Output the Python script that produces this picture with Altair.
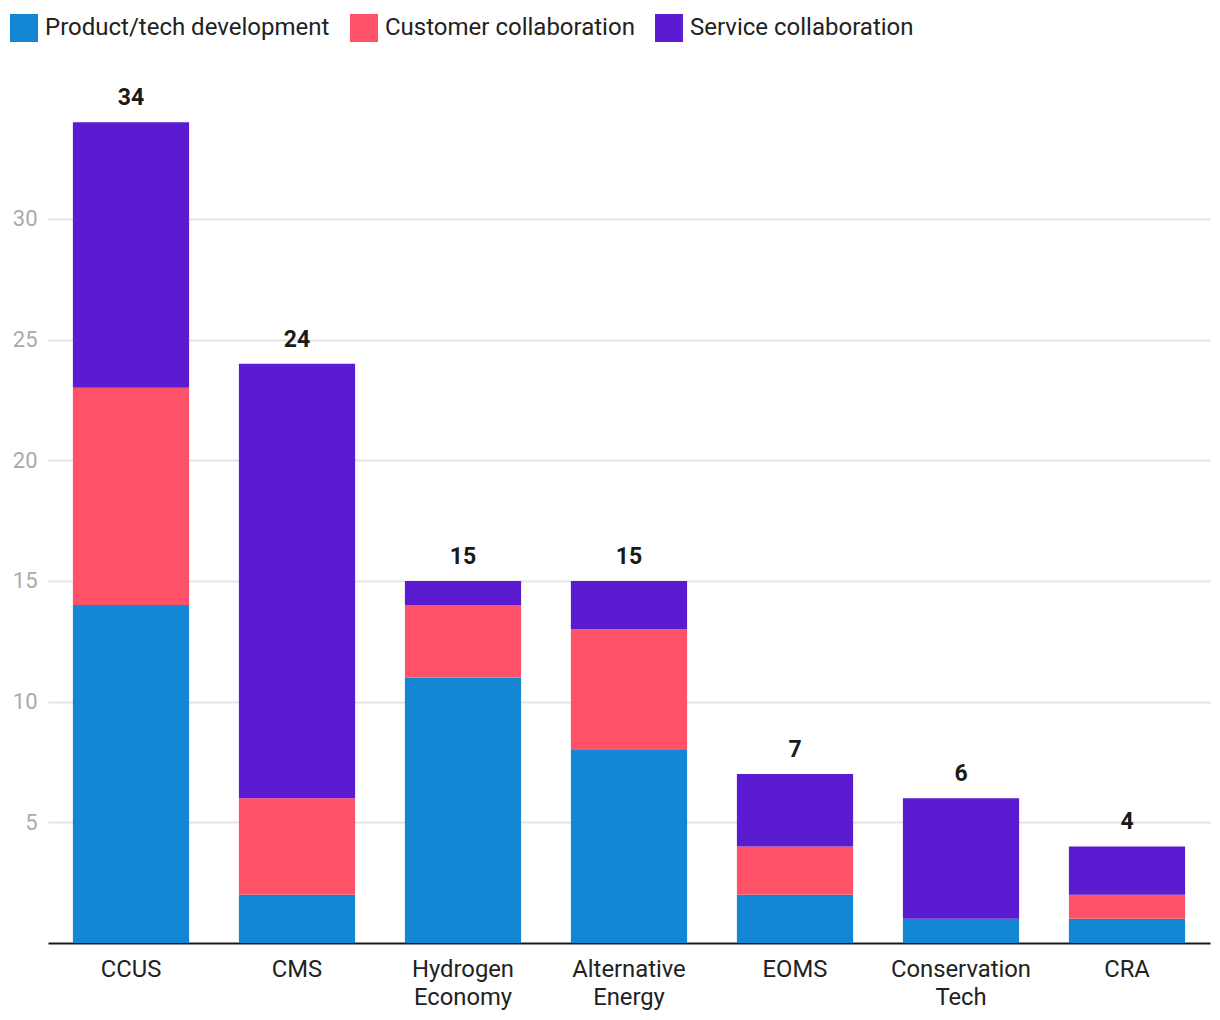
import altair as alt
import pandas as pd

categories = ["CCUS", "CMS", "Hydrogen Economy", "Alternative Energy", "EOMS", "Conservation Tech", "CRA"]
series = ["Product/tech development", "Customer collaboration", "Service collaboration"]
product_dev = [14, 2, 11, 8, 2, 1, 1]
customer_collab = [9, 4, 3, 5, 2, 0, 1]
service_collab = [11, 18, 1, 2, 3, 5, 2]
colors = ["#1386d4", "#ff5268", "#5a1bd1"]

rows = []
for i, c in enumerate(categories):
    for j, (s, vals) in enumerate(zip(series, [product_dev, customer_collab, service_collab])):
        rows.append({"category": c, "series": s, "value": vals[i], "order": j})
df = pd.DataFrame(rows)

x_enc = alt.X(
    "category:N",
    sort=categories,
    scale=alt.Scale(paddingInner=0.3, paddingOuter=0.15),
    axis=alt.Axis(
        title=None,
        labelAngle=0,
        labelExpr="split(datum.label, ' ')",
        labelFontSize=23.8,
        labelColor="#222222",
        labelFont="Roboto",
        labelLineHeight=28,
        labelPadding=14,
        ticks=False,
        domainColor="#1a1a1a",
        domainWidth=2,
        grid=False,
    ),
)

y_scale = alt.Scale(domain=[0, 36], nice=False)

bars = alt.Chart(df).mark_bar().encode(
    x=x_enc,
    y=alt.Y(
        "sum(value):Q",
        scale=y_scale,
        axis=alt.Axis(
            title=None,
            values=[5, 10, 15, 20, 25, 30],
            labelFontSize=22,
            labelColor="#aaaaaa",
            labelFont="Roboto",
            labelPadding=11,
            ticks=False,
            domain=False,
            gridColor="#e4e4e4",
            gridWidth=2,
        ),
    ),
    color=alt.Color(
        "series:N",
        sort=series,
        scale=alt.Scale(domain=series, range=colors),
        legend=alt.Legend(
            title=None,
            orient="none",
            legendX=-38,
            legendY=-60,
            direction="horizontal",
            symbolType="square",
            symbolSize=784,
            symbolStrokeWidth=0,
            labelFontSize=24,
            labelFont="Roboto",
            labelColor="#222222",
            labelOffset=7,
            labelLimit=0,
            columnPadding=20,
        ),
    ),
    order=alt.Order("order:Q", sort="ascending"),
)

labels = alt.Chart(df).mark_text(
    dy=-12, fontSize=23, fontWeight="bold", font="Roboto", color="#1a1a1a", baseline="bottom"
).encode(
    x=alt.X("category:N", sort=categories),
    y=alt.Y("sum(value):Q", scale=y_scale),
    text=alt.Text("sum(value):Q"),
)

chart = alt.layer(bars, labels).properties(
    width=1162,
    height=869,
    padding={"left": 40, "top": 66, "right": 2, "bottom": 76},
    autosize=alt.AutoSizeParams(type="none"),
).configure_view(stroke=None)

chart.save("out.html", embed_options={"renderer": "svg", "actions": False})
